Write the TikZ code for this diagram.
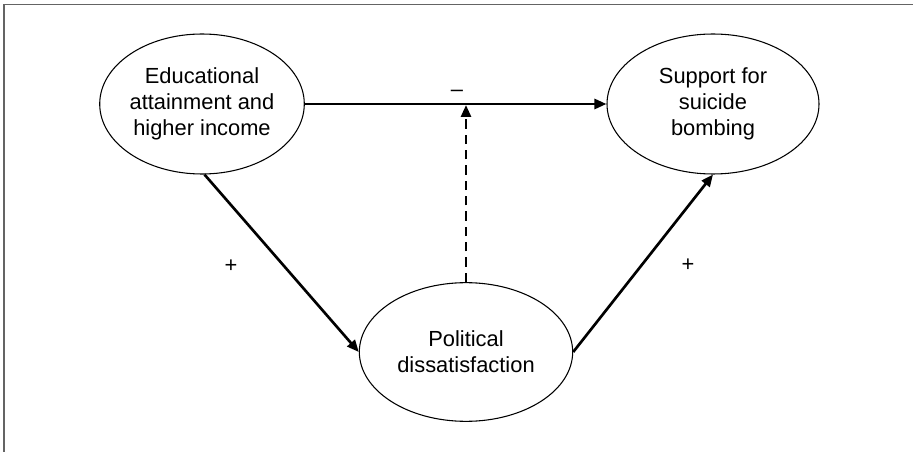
\documentclass[tikz,border=0pt]{standalone}
\usepackage{fontspec}
\setmainfont{Liberation Sans}
\usetikzlibrary{shapes.geometric,arrows.meta}

\tikzset{
  oval/.style={draw, ellipse, line width=0.8pt, inner sep=0pt, align=center,
    font=\fontsize{16.4pt}{19.5pt}\selectfont},
  link/.style={line width=2pt, -{Triangle[length=9pt,width=7.5pt]}},
  sign/.style={inner sep=0.75pt, font=\fontsize{16.4pt}{18pt}\selectfont}
}

\begin{document}
\begin{tikzpicture}[x=0.75pt,y=0.75pt,yscale=-1,xscale=1]
\useasboundingbox (0,0) rectangle (913,452);

%Frame
\draw [color={rgb, 255:red, 100; green, 100; blue, 100 }, line width=1.1pt] (4,452) -- (4,4.5) -- (913,4.5) ;

%Shape: Ellipse
\node (edu) [oval, minimum width=153pt, minimum height=105pt] at (202,104) {Educational\\attainment and\\higher income};
%Shape: Ellipse
\node (sup) [oval, minimum width=159pt, minimum height=105pt] at (713,104) {Support for\\suicide\\bombing};
%Shape: Ellipse
\node (pol) [oval, minimum width=160pt, minimum height=104pt] at (466,352) {Political\\dissatisfaction};

\coordinate (meet) at (466,105);

%Straight Lines
\draw [link] (edu.east) -- (sup.west) ;
\draw [link] (edu.272) -- (pol.west) ;
\draw [link] (pol.east) -- (sup.south) ;
%Straight Lines
\draw [link, dash pattern={on 7pt off 4.5pt}] (pol.north) -- (meet) ;

% Text Node
\node (minus) [sign] at (457,93) {--};
% Text Node
\node (plusl) [sign] at (231,266) {+};
% Text Node
\node (plusr) [sign] at (688,265) {+};

\end{tikzpicture}
\end{document}
